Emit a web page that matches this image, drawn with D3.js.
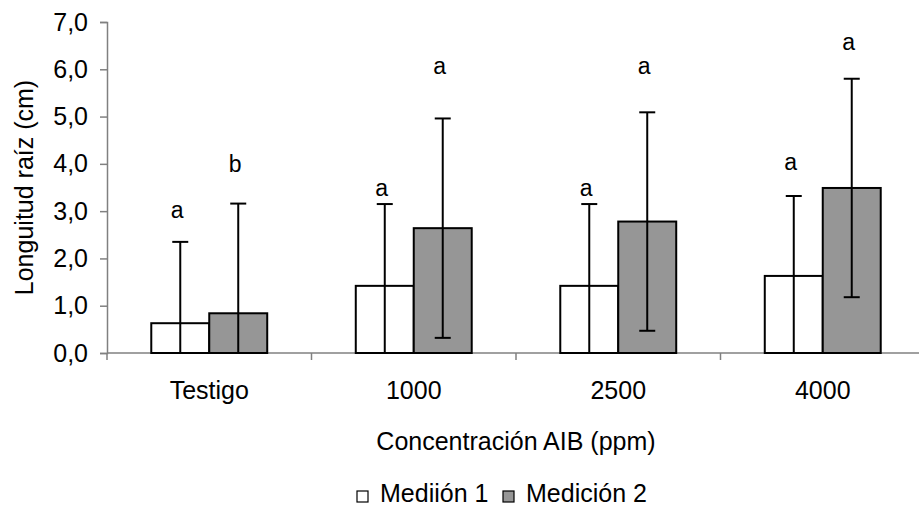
<!DOCTYPE html>
<html>
<head>
    <meta charset="utf-8">
    <title>Longitud raíz</title>
    <script src="https://d3js.org/d3.v7.min.js"></script>
    <style>
        body { margin: 0; background: #fff; }
        svg text { font-family: "Liberation Sans", Arial, sans-serif; fill: #000; }
    </style>
</head>
<body>
    <div id="chart"></div>

    <script>
        // datos
        var categories = ["Testigo", "1000", "2500", "4000"];
        var seriesNames = ["Mediión 1", "Medición 2"];
        var medicion1 = [0.63, 1.42, 1.42, 1.63];
        var medicion2 = [0.84, 2.64, 2.78, 3.49];
        var error1 = [1.72, 1.73, 1.73, 1.69];
        var error2 = [2.32, 2.32, 2.31, 2.31];
        var letras1 = ["a", "a", "a", "a"];
        var letras2 = ["b", "a", "a", "a"];
        // altura de las letras (en cm, sobre el eje)
        var letrasY1 = [2.86, 3.32, 3.32, 3.86];
        var letrasY2 = [3.83, 5.89, 5.89, 6.41];
        var yTicks = [0, 1, 2, 3, 4, 5, 6, 7];

        var width = 919, height = 510;
        var mLeft = 107, mRight = 925, mTop = 22, mBottom = 353;
        var fontSize = "25px";

        var svg = d3.select("#chart").append("svg")
            .attr("width", width)
            .attr("height", height);

        var x0 = d3.scaleBand()
            .domain(categories)
            .range([mLeft, mRight])
            .paddingInner(0.433)
            .paddingOuter(0.2165);

        var x1 = d3.scaleBand()
            .domain(seriesNames)
            .range([0, x0.bandwidth()]);

        var y = d3.scaleLinear()
            .domain([0, 7])
            .range([mBottom, mTop]);

        var fills = ["#ffffff", "#969696"];

        var data = categories.map(function(c, i) {
            return [
                { cat: c, s: seriesNames[0], v: medicion1[i], e: error1[i], l: letras1[i], ly: letrasY1[i], fill: fills[0] },
                { cat: c, s: seriesNames[1], v: medicion2[i], e: error2[i], l: letras2[i], ly: letrasY2[i], fill: fills[1] }
            ];
        });

        // eje Y
        var yAxis = svg.append("g")
            .attr("transform", "translate(" + mLeft + ",0)")
            .call(d3.axisLeft(y)
                .tickValues(yTicks)
                .tickSize(7)
                .tickPadding(12)
                .tickFormat(function(d) { return d.toFixed(1).replace(".", ","); }));
        yAxis.select(".domain").attr("stroke", "#808080").attr("stroke-width", 1.5);
        yAxis.selectAll(".tick line").attr("stroke", "#808080").attr("stroke-width", 1.5);
        yAxis.selectAll(".tick text").style("font-size", fontSize);

        // eje X (etiquetas en el centro, marcas entre grupos)
        var xAxis = svg.append("g")
            .attr("transform", "translate(0," + mBottom + ")")
            .call(d3.axisBottom(x0).tickSize(0).tickPadding(28));
        xAxis.select(".domain").remove();
        xAxis.selectAll(".tick text").style("font-size", fontSize);

        var bounds = categories.map(function(c) { return x0(c) - x0.step() * x0.paddingOuter(); });
        bounds.push(mRight);

        svg.append("line")
            .attr("x1", mLeft).attr("x2", mRight)
            .attr("y1", mBottom).attr("y2", mBottom)
            .attr("stroke", "#808080").attr("stroke-width", 1.5);

        svg.selectAll(".xtick")
            .data(bounds)
            .enter().append("line")
            .attr("x1", function(d) { return d; })
            .attr("x2", function(d) { return d; })
            .attr("y1", mBottom)
            .attr("y2", mBottom + 7)
            .attr("stroke", "#808080").attr("stroke-width", 1.5);

        // barras
        var groups = svg.selectAll(".grupo")
            .data(data)
            .enter().append("g")
            .attr("transform", function(d, i) { return "translate(" + x0(categories[i]) + ",0)"; });

        groups.selectAll("rect")
            .data(function(d) { return d; })
            .enter().append("rect")
            .attr("x", function(d) { return x1(d.s); })
            .attr("y", function(d) { return y(d.v); })
            .attr("width", x1.bandwidth())
            .attr("height", function(d) { return y(0) - y(d.v); })
            .attr("fill", function(d) { return d.fill; })
            .attr("stroke", "#000")
            .attr("stroke-width", 2);

        // barras de error
        function cx(d) { return x1(d.s) + x1.bandwidth() / 2; }

        groups.selectAll(".err")
            .data(function(d) { return d; })
            .enter().append("line")
            .attr("x1", cx)
            .attr("x2", cx)
            .attr("y1", function(d) { return y(Math.max(0, d.v - d.e)); })
            .attr("y2", function(d) { return y(d.v + d.e); })
            .attr("stroke", "#000")
            .attr("stroke-width", 2);

        groups.selectAll(".capTop")
            .data(function(d) { return d; })
            .enter().append("line")
            .attr("x1", function(d) { return cx(d) - 8; })
            .attr("x2", function(d) { return cx(d) + 8; })
            .attr("y1", function(d) { return y(d.v + d.e); })
            .attr("y2", function(d) { return y(d.v + d.e); })
            .attr("stroke", "#000")
            .attr("stroke-width", 2);

        groups.selectAll(".capBot")
            .data(function(d) { return d.filter(function(p) { return p.v - p.e > 0; }); })
            .enter().append("line")
            .attr("x1", function(d) { return cx(d) - 8; })
            .attr("x2", function(d) { return cx(d) + 8; })
            .attr("y1", function(d) { return y(d.v - d.e); })
            .attr("y2", function(d) { return y(d.v - d.e); })
            .attr("stroke", "#000")
            .attr("stroke-width", 2);

        // letras de significancia
        groups.selectAll(".letra")
            .data(function(d) { return d; })
            .enter().append("text")
            .attr("x", function(d) { return cx(d) - 3; })
            .attr("y", function(d) { return y(d.ly); })
            .attr("text-anchor", "middle")
            .style("font-size", "23px")
            .text(function(d) { return d.l; });

        // títulos de ejes
        svg.append("text")
            .attr("transform", "translate(33," + ((mTop + mBottom) / 2) + ") rotate(-90)")
            .attr("text-anchor", "middle")
            .style("font-size", fontSize)
            .text("Longuitud raíz (cm)");

        svg.append("text")
            .attr("x", (mLeft + mRight) / 2)
            .attr("y", 450)
            .attr("text-anchor", "middle")
            .style("font-size", fontSize)
            .text("Concentración AIB (ppm)");

        // leyenda
        var legendX = [357, 503];
        var legend = svg.selectAll(".leyenda")
            .data(seriesNames)
            .enter().append("g")
            .attr("transform", function(d, i) { return "translate(" + legendX[i] + ",491)"; });

        legend.append("rect")
            .attr("width", 11).attr("height", 11)
            .attr("fill", function(d, i) { return fills[i]; })
            .attr("stroke", "#000").attr("stroke-width", 1.2);

        legend.append("text")
            .attr("x", 23)
            .attr("y", 11)
            .style("font-size", fontSize)
            .text(function(d) { return d; });
    </script>
</body>
</html>
